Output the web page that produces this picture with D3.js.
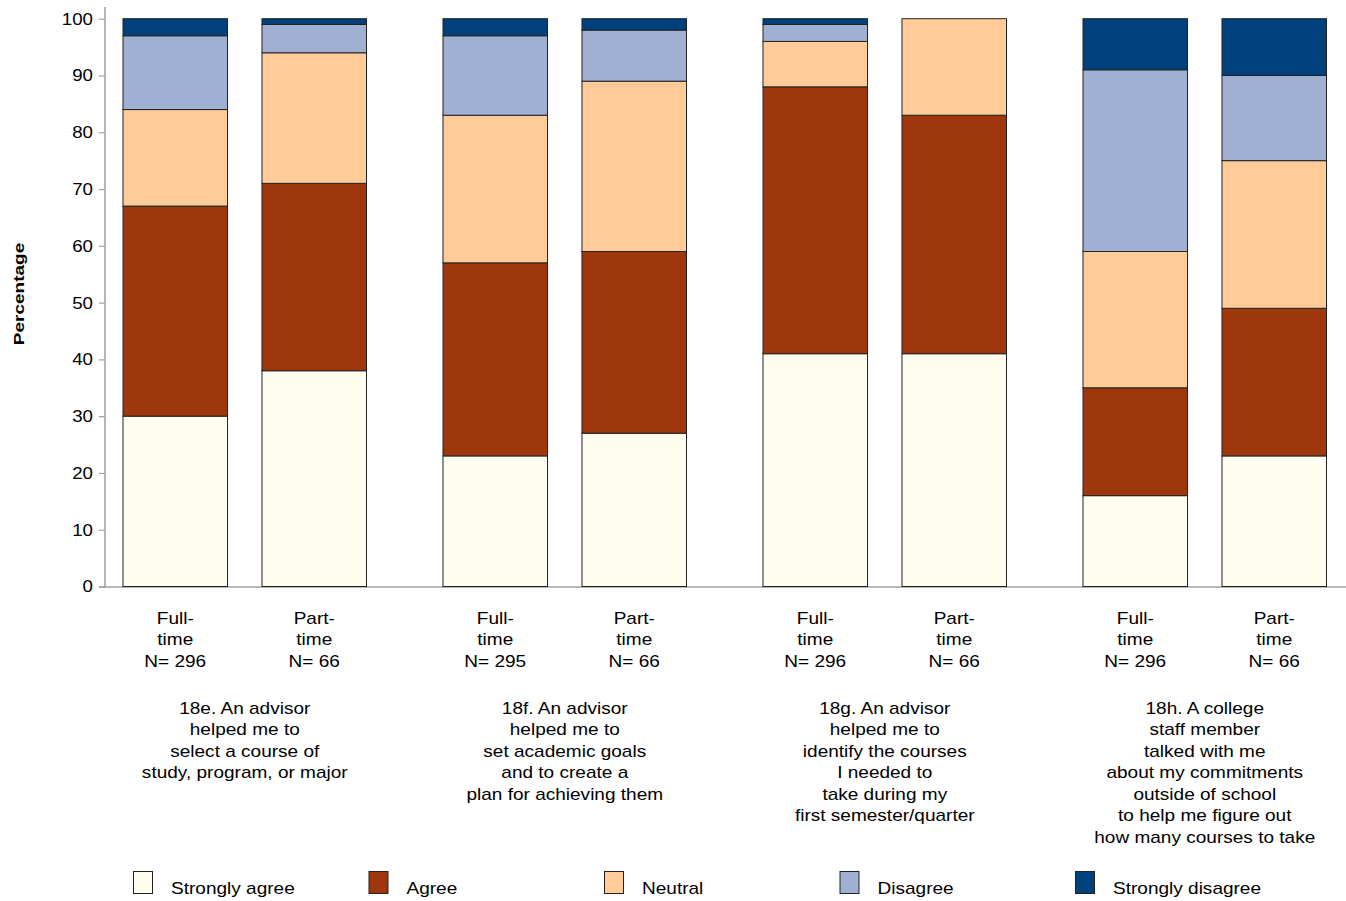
<!DOCTYPE html>
<html><head><meta charset="utf-8">
<script src="https://cdn.jsdelivr.net/npm/d3@7"></script>
<style>body{margin:0;background:#fff;} text{font-family:"Liberation Sans",Arial,sans-serif;fill:#000;}</style>
</head><body><svg id="c" width="1346" height="901"></svg>
<script>
const groups = ["18e. An advisor|helped me to|select a course of|study, program, or major",
  "18f. An advisor|helped me to|set academic goals|and to create a|plan for achieving them",
  "18g. An advisor|helped me to|identify the courses|I needed to|take during my|first semester/quarter",
  "18h. A college|staff member|talked with me|about my commitments|outside of school|to help me figure out|how many courses to take"];
const barLabels = ["Full-|time|N= 296","Part-|time|N= 66","Full-|time|N= 295","Part-|time|N= 66","Full-|time|N= 296","Part-|time|N= 66","Full-|time|N= 296","Part-|time|N= 66"];
const seriesNames = ["Strongly agree","Agree","Neutral","Disagree","Strongly disagree"];
const colors = ["#FFFDEE","#9E380C","#FFCB99","#9FB0D2","#00417D"];
const stronglyAgree    = [30,38,23,27,41,41,16,23];
const agree            = [37,33,34,32,47,42,19,26];
const neutral          = [17,23,26,30,8,17,24,26];
const disagree         = [13,5,14,9,3,0,32,15];
const stronglyDisagree = [3,1,3,2,1,0,9,10];
const yTicks = [0,10,20,30,40,50,60,70,80,90,100];

const SX = 1.12; // horizontal stretch of reference text
const svg = d3.select("#c");
const y = d3.scaleLinear().domain([0,100]).range([586.5,18.7]);
const gx = d3.scaleBand().domain(d3.range(4)).range([105,1385]);
const bx = d3.scaleBand().domain([0,1]).range([18,261.5]).paddingInner(0.248).paddingOuter(0);
const series = [stronglyAgree,agree,neutral,disagree,stronglyDisagree];
const data = barLabels.map((l,i)=>({i, vals: series.map(s=>s[i])}));
function barX(i){ return gx(Math.floor(i/2)) + bx(i%2); }
const bw = bx.bandwidth();

function stretchedText(x, yy, lines, opts={}){
  const g = svg.append("g").attr("transform",`translate(${x},0) scale(${opts.sx||SX},1)`);
  const t = g.append("text").attr("text-anchor",opts.anchor||"middle").attr("font-size",(opts.size||17)+"px");
  lines.forEach((s,j)=>t.append("tspan").attr("x",0).attr("y",yy+j*21.5).text(s));
  return t;
}

// axis
const axis = d3.axisLeft(y).tickValues(yTicks).tickSize(6).tickPadding(6);
const ag = svg.append("g").attr("transform","translate(105,0)").call(axis);
ag.select(".domain").attr("stroke","#a0a0a0").attr("stroke-width",1.5).attr("d","M0,7V587.5");
ag.selectAll(".tick line").attr("stroke","#a0a0a0").attr("stroke-width",1.2);
ag.selectAll(".tick text").attr("font-size","17px").attr("fill","#000")
  .attr("font-family","Liberation Sans, Arial, sans-serif")
  .attr("x",0).attr("transform",`translate(-12,0) scale(1.1,1)`);
// baseline
svg.append("line").attr("x1",99).attr("x2",1346).attr("y1",y(0)+0.5).attr("y2",y(0)+0.5).attr("stroke","#a0a0a0").attr("stroke-width",1.5);

// bars
data.forEach(d=>{
  let cum=0;
  d.vals.forEach((v,k)=>{
    if(v>0){
      svg.append("rect").attr("x",barX(d.i)).attr("width",bw)
        .attr("y",y(cum+v)).attr("height",y(cum)-y(cum+v))
        .attr("fill",colors[k]).attr("stroke","#222").attr("stroke-width",1);
    }
    cum+=v;
  });
});

// bar labels
barLabels.forEach((l,i)=> stretchedText(barX(i)+bw/2, 624, l.split("|")));
groups.forEach((g,i)=> stretchedText(gx(i)+18+(139+bw)/2, 714, g.split("|")));

// y title
svg.append("g").attr("transform","translate(24,294) rotate(-90) scale(1.27,1)")
  .append("text").attr("text-anchor","middle").attr("font-size","15px").attr("font-weight","bold").text("Percentage");

// legend
const lx = d3.scaleLinear().domain([0,4]).range([133,1075]);
seriesNames.forEach((n,k)=>{
  svg.append("rect").attr("x",lx(k)+0.5).attr("y",871.5).attr("width",19).attr("height",22)
    .attr("fill",colors[k]).attr("stroke","#222").attr("stroke-width",1);
  stretchedText(lx(k)+38, 894, [n], {anchor:"start"});
});
</script></body></html>
